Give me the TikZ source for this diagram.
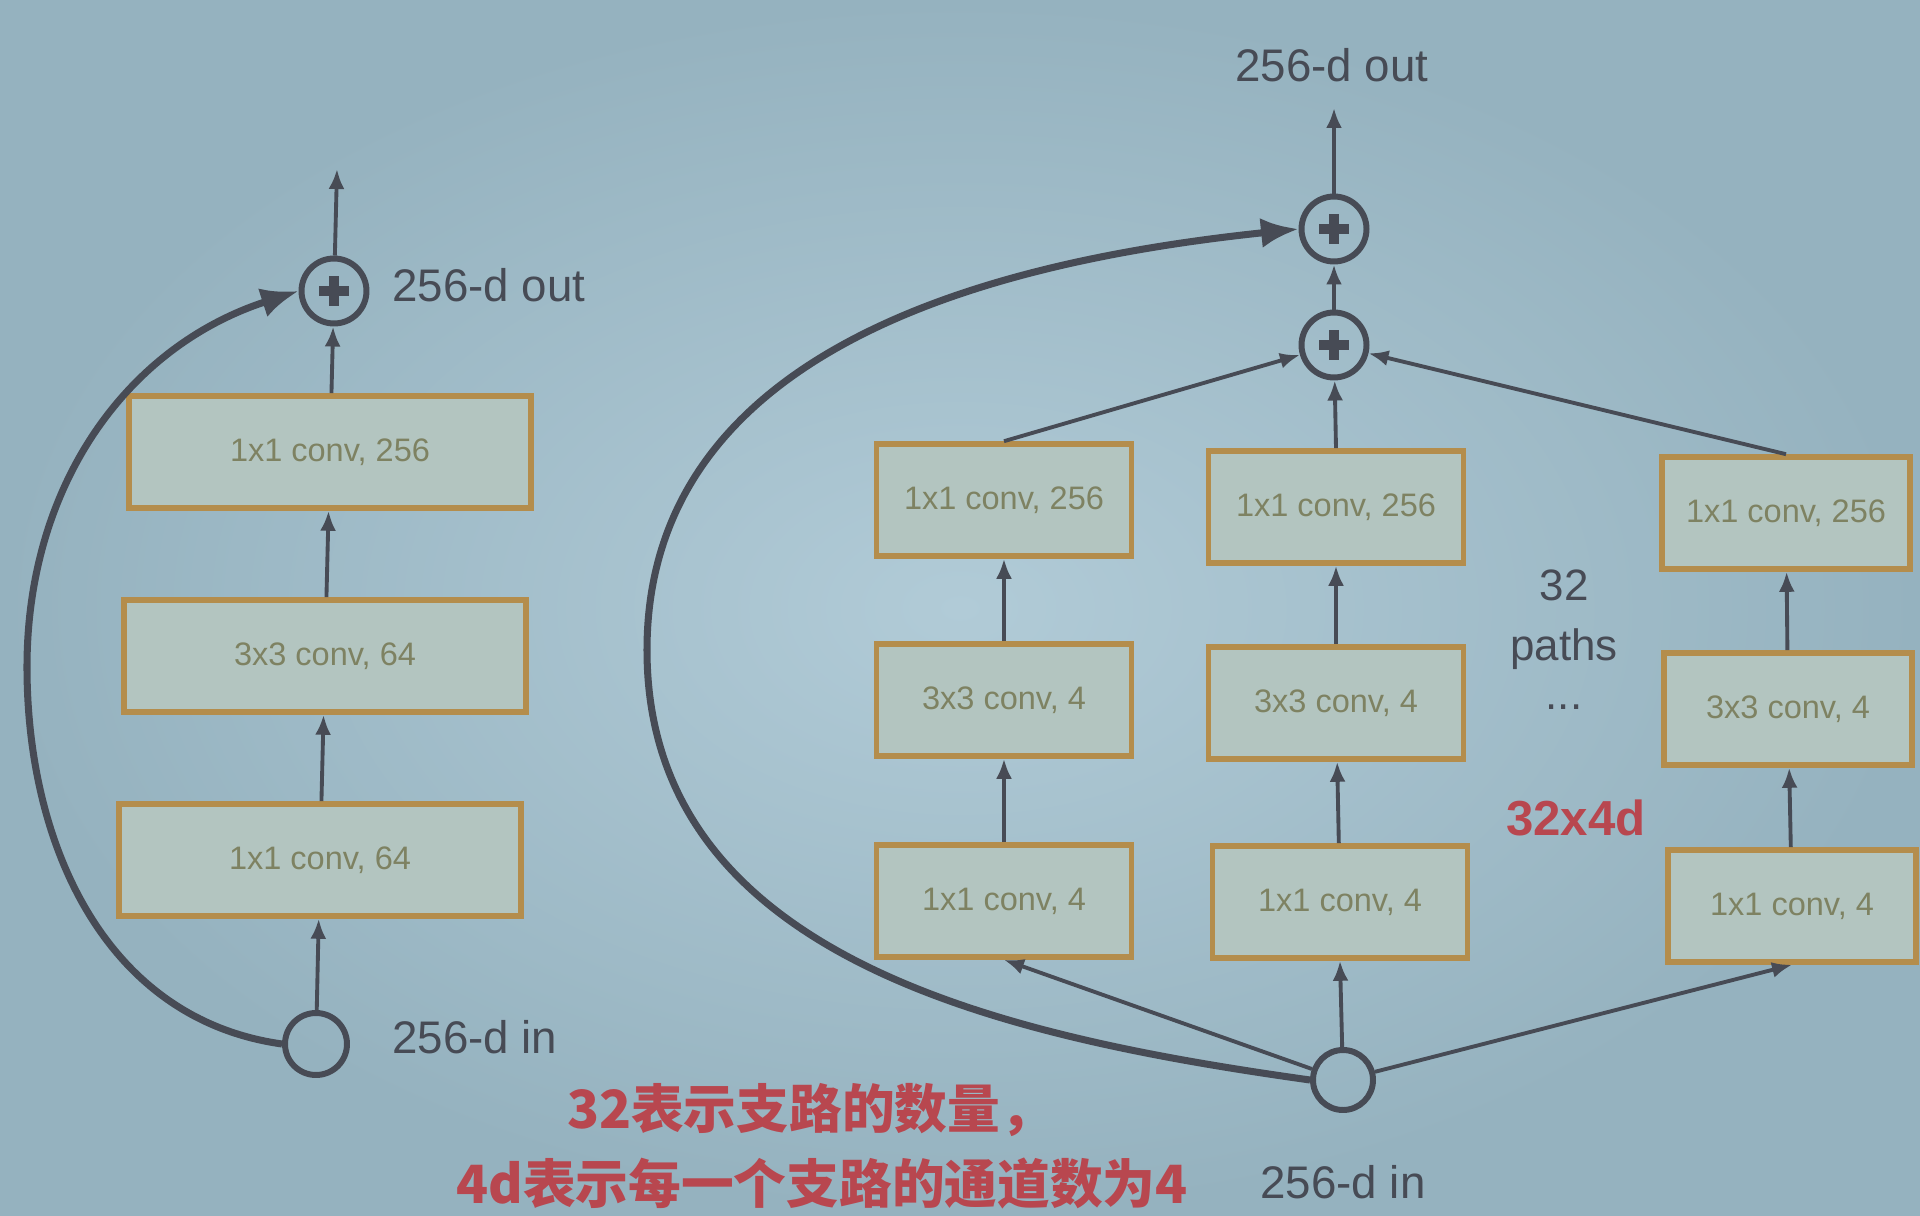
\documentclass[tikz,border=0pt]{standalone}
\usepackage{fontspec}
\setmainfont{Liberation Sans}
\newfontfamily\cjk{Noto Sans CJK SC}
\usetikzlibrary{arrows.meta,positioning,calc}
\definecolor{slidemid}{HTML}{B1CBD7}
\definecolor{slideedge}{HTML}{95B2BF}
\definecolor{boxfill}{HTML}{B3C5C0}
\definecolor{boxedge}{HTML}{B48D4C}
\definecolor{boxtext}{HTML}{7E8262}
\definecolor{ink}{HTML}{474B55}
\definecolor{note}{HTML}{B8474F}

\begin{document}
\begin{tikzpicture}[x=0.02cm, y=-0.02cm,
    conv/.style={draw=boxedge, fill=boxfill, line width=3.2pt, minimum height=2.24cm, text=boxtext, font=\fontsize{18.5}{20}\selectfont},
    wideconv/.style={conv, minimum width=8.05cm},
    narrowconv/.style={conv, minimum width=5.1cm},
    port/.style={circle, draw=ink, line width=3.4pt, minimum size=1.24cm},
    adder/.style={port, minimum size=1.3cm, path picture={
        \draw[ink, line width=5.5pt] (path picture bounding box.center) ++(-0.3cm,0) -- ++(0.6cm,0)
            (path picture bounding box.center) ++(0,-0.3cm) -- ++(0,0.6cm);}},
    lbl/.style={text=ink, font=\fontsize{26}{30}\selectfont},
    arr/.style={draw=ink, line width=2.2pt, -{Latex[length=0.4cm,width=0.32cm]}},
    skip/.style={draw=ink, line width=4pt, -{Latex[length=0.75cm,width=0.6cm]}}
]
\useasboundingbox (0,0) rectangle (1920,1216);
\shade[inner color=slidemid, outer color=slideedge] (0,0) rectangle (1920,1216);

% left: plain bottleneck block
\node[adder] (plusL) at (334,291) {};
\coordinate (topL) at (337,169);
\node[wideconv] (l3) at (330,452) {1x1 conv, 256};
\node[wideconv] (l2) at (325,656) {3x3 conv, 64};
\node[wideconv] (l1) at (320,860) {1x1 conv, 64};
\node[port] (inL) at (316,1044) {};
\coordinate (skipL) at (27,667);
\node[lbl, anchor=west] (outLtxt) at (386,285) {256-d out};
\node[lbl, anchor=west] (inLtxt) at (386,1037) {256-d in};

\draw[arr] (inL) -- (l1);
\draw[arr] (l1) -- (l2);
\draw[arr] (l2) -- (l3);
\draw[arr] (l3) -- (plusL);
\draw[arr] (plusL) -- (topL);
\draw[skip] (inL.west) to[out=172, in=-90] (skipL) to[out=90, in=198] (plusL.west);

% right: 32 grouped paths
\node[adder] (plusA) at (1334,229) {};
\node[adder] (plusB) at (1334,345) {};
\coordinate (topR) at (1334,108);
\node[lbl] (outRtxt) at (1332,65) {256-d out};

\node[narrowconv] (a3) at (1004,500) {1x1 conv, 256};
\node[narrowconv] (a2) at (1004,700) {3x3 conv, 4};
\node[narrowconv] (a1) at (1004,901) {1x1 conv, 4};
\node[narrowconv] (b3) at (1336,507) {1x1 conv, 256};
\node[narrowconv] (b2) at (1336,703) {3x3 conv, 4};
\node[narrowconv] (b1) at (1340,902) {1x1 conv, 4};
\node[narrowconv, minimum width=4.95cm] (c3) at (1786,513) {1x1 conv, 256};
\node[narrowconv, minimum width=4.95cm] (c2) at (1788,709) {3x3 conv, 4};
\node[narrowconv, minimum width=4.95cm] (c1) at (1792,906) {1x1 conv, 4};

\node[port, minimum size=1.2cm] (inR) at (1343,1080) {};
\node[lbl] (inRtxt) at (1343,1182) {256-d in};
\coordinate (skipR) at (647,650);

\node[lbl, align=center, font=\fontsize{25}{34}\selectfont] (paths) at (1564,640) {32\\paths\\[-6pt]...};
\node[text=note, font=\fontsize{28}{32}\selectfont\bfseries] (width) at (1576,818) {32x4d};

\draw[arr] (inR) -- (a1.south);
\draw[arr] (inR) -- (b1.south);
\draw[arr] (inR) -- (c1.south);
\draw[arr] (a1) -- (a2);
\draw[arr] (a2) -- (a3);
\draw[arr] (b1) -- (b2);
\draw[arr] (b2) -- (b3);
\draw[arr] (c1) -- (c2);
\draw[arr] (c2) -- (c3);
\draw[arr] (a3.north) -- (plusB);
\draw[arr] (b3.north) -- (plusB);
\draw[arr] (c3.north) -- (plusB);
\draw[arr] (plusB) -- (plusA);
\draw[arr] (plusA) -- (topR);
\draw[skip] (inR.west) to[out=172, in=-90] (skipR) to[out=90, in=186] (plusA.west);

% note in red
\node[text=note, font=\cjk\fontsize{30}{36}\selectfont\bfseries] (note1) at (810,1110) {32表示支路的数量，};
\node[text=note, font=\cjk\fontsize{30}{36}\selectfont\bfseries] (note2) at (822,1184) {4d表示每一个支路的通道数为4};
\end{tikzpicture}
\end{document}
